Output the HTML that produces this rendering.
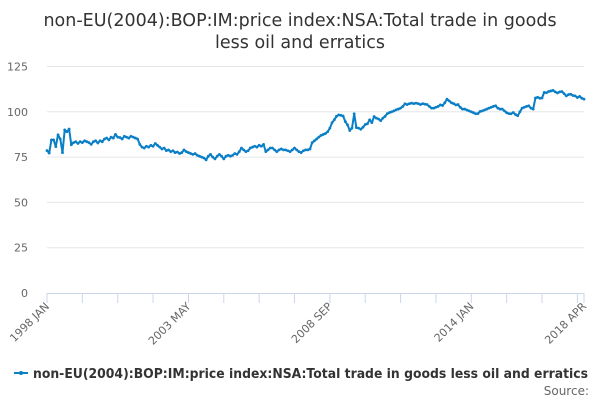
<!DOCTYPE html>
<html><head><meta charset="utf-8"><style>
body{margin:0;background:#fff;font-family:"Liberation Sans","DejaVu Sans",sans-serif;}
svg text{font-family:"DejaVu Sans","Liberation Sans",sans-serif;}
</style></head><body>
<svg id="chart" width="600" height="400" xmlns="http://www.w3.org/2000/svg">
<text x="300" y="26" text-anchor="middle" font-size="17.5" fill="#333">non-EU(2004):BOP:IM:price index:NSA:Total trade in goods</text>
<text x="300" y="48" text-anchor="middle" font-size="17.5" fill="#333">less oil and erratics</text>
<g id="grid"></g><g id="xaxis"></g><g id="series"></g>
<g>
<line x1="14" y1="373" x2="28" y2="373" stroke="#0a7fc6" stroke-width="2"/>
<circle cx="21" cy="373" r="2" fill="#0a7fc6"/>
<text x="33" y="378" font-size="13" font-weight="bold" fill="#333" textLength="555" lengthAdjust="spacingAndGlyphs">non-EU(2004):BOP:IM:price index:NSA:Total trade in goods less oil and erratics</text>
</g>
<text x="589" y="395" text-anchor="end" font-size="12" fill="#666">Source:</text>
</svg>
<script>
const yTicks=[0,25,50,75,100,125];
const xLabels=["1998 JAN","2003 MAY","2008 SEP","2014 JAN","2018 APR"];
const xLabelIdx=[0,64,128,192,243];
const values=[
78.6,77.2,84.5,84.5,80.8,87.3,85,77.5,90,89,90.5,81.8,
83,83.5,82.5,83.5,83,84,83.5,83,82,83.5,84,82.8,
84,83.5,85,85.5,84.5,86,85.5,87.5,86,85.8,85,86.5,
86,85.5,86.5,86,85.5,85,82,80.5,80,81,80.5,81.5,
81,82.5,81.5,80.5,79.5,80,78.6,79,78,78.5,77.5,77.8,
77,77.5,79,78,77.5,77,76.5,77,76,75.5,75,74.5,
73.5,75.5,76.5,75,74,75.5,76.5,75.5,74,75.5,76,75.5,
76,77,76.5,78,80,79,78,78.5,80,80.5,81,80.5,
81.5,81,82,78,79,80,80,79,78,79,79.5,79,
79,78.5,78,79,80,79,78,77.5,78.5,79,79,79.5,
83,84,85,86,87,87.5,88,89,91,94,95.6,97.5,
98.3,98,97.7,94.6,92.8,89.7,91,98.9,91.3,91,90.4,91.5,
93,93.4,95.6,94,97.4,96.5,96,95.1,96.5,97.5,99,99.6,
100,100.5,101.1,101.5,102,103,104.4,104,104.5,104.8,104.5,104.8,
104.5,104,104.5,104.2,104,103,102,102,102.5,103,103.8,103.5,
105,107,106,105,104.5,103.8,104,102.5,101.5,101.5,101,100.5,
100,99.5,98.9,99,100.2,100.5,101,101.5,102,102.5,103,103.3,
102,101.5,101.5,100.5,99.5,99,98.9,99.6,98.5,97.8,100,102,
102.5,103,103.3,102,101.5,107.6,108,107.5,107.6,110.7,110.5,111.2,
111.5,111.8,111,110.4,111,111.2,110,108.8,109.5,109.7,109,108.8,107.9,108.5,107.5,107];
const NS="http://www.w3.org/2000/svg";
const X0=47,X1=584,Y0=293,Y1=66.5,YMAX=125;
const n=values.length;
const xs=i=>X0+(X1-X0)*i/(n-1);
const ys=v=>Y0-(Y0-Y1)*v/YMAX;
function mk(t,a,p){const e=document.createElementNS(NS,t);for(const k in a)e.setAttribute(k,a[k]);p.appendChild(e);return e;}
const grid=document.getElementById('grid');
yTicks.forEach(v=>{
 if(v>0){const l=mk('line',{x1:X0,x2:X1,y1:ys(v),y2:ys(v),stroke:'#e6e6e6','stroke-width':1},grid);
 
 }
 const t=mk('text',{x:28,y:ys(v)+4,'text-anchor':'end','font-size':11,fill:'#666'},grid);t.textContent=v;
 
 
});
const xa=document.getElementById('xaxis');
const ax=mk('line',{x1:X0,x2:X1,y1:Y0+0.5,y2:Y0+0.5,stroke:'#ccd6eb','stroke-width':1},xa);


const tickIdx=[];for(let i=0;i<n;i+=16)tickIdx.push(i);tickIdx.push(n-1);
tickIdx.forEach(i=>{const t=mk('line',{x1:xs(i),x2:xs(i),y1:Y0,y2:Y0+10,stroke:'#ccd6eb'},xa);
 
 });
xLabels.forEach((lab,k)=>{const x=xs(xLabelIdx[k]);
 const t=mk('text',{x:x+3,y:Y0+14,'text-anchor':'end','font-size':11,fill:'#666',transform:`rotate(-45 ${x+3} ${Y0+14})`},xa);
 t.textContent=lab;
 
 });
const sg=document.getElementById('series');
const p=mk('polyline',{points:values.map((v,i)=>xs(i).toFixed(1)+','+ys(v).toFixed(1)).join(' '),fill:'none',stroke:'#0a7fc6','stroke-width':2,'stroke-linejoin':'round'},sg);


values.forEach((v,i)=>{const c=mk('circle',{cx:xs(i),cy:ys(v),r:1.4,fill:'#0a7fc6'},sg);
 
 });
</script>
</body></html>
